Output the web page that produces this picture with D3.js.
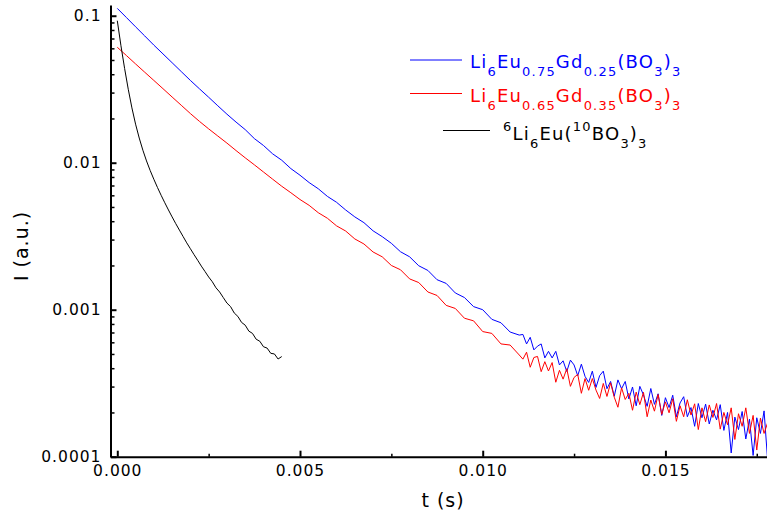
<!DOCTYPE html>
<html>
<head>
<meta charset="utf-8">
<script src="https://cdn.jsdelivr.net/npm/d3@7"></script>
<style>
body { margin: 0; background: #fff; }
svg { display: block; font-family: "DejaVu Sans", Verdana, sans-serif; }
</style>
</head>
<body>
<svg id="chart" width="767" height="514"></svg>
<script>
// decay curves.
// early part sampled every 0.25 ms from t = 0, noisy tail every 0.1 ms from 11.1 ms
const earlyStep = 0.00025;
const tailStart = 0.0111, tailStep = 0.0001;

const blueEarly = [
  0.1122, 0.0972, 0.0841, 0.0729, 0.0631, 0.0550, 0.0479, 0.0417, 0.0363, 0.0318,
  0.0279, 0.0244, 0.0214, 0.0189, 0.0168, 0.0146, 0.0131, 0.0115, 0.0104, 0.00912,
  0.00822, 0.00733, 0.00665, 0.00590, 0.00538, 0.00477, 0.00428, 0.00391, 0.00344, 0.00314,
  0.00283, 0.00248, 0.00229, 0.00199, 0.00185, 0.00160, 0.00151, 0.00130, 0.00121, 0.00105,
  0.00100, 0.000860, 0.000815, 0.000705, 0.000672
];
const blueTail = [
  6.79e-4, 5.85e-4, 6.49e-4, 5.33e-4, 5.65e-4, 5.85e-4, 4.70e-4, 5.21e-4, 4.70e-4, 5.21e-4,
  4.21e-4, 4.49e-4, 3.80e-4, 4.54e-4, 4.21e-4, 3.56e-4, 4.26e-4, 3.52e-4, 3.20e-4, 3.82e-4,
  2.96e-4, 3.56e-4, 3.82e-4, 2.90e-4, 3.25e-4, 2.58e-4, 3.33e-4, 2.90e-4, 3.25e-4, 2.47e-4,
  2.98e-4, 2.22e-4, 3.01e-4, 2.63e-4, 2.20e-4, 2.91e-4, 2.27e-4, 2.68e-4, 1.91e-4, 2.52e-4,
  2.16e-4, 2.62e-4, 1.87e-4, 2.32e-4, 2.56e-4, 1.87e-4, 2.16e-4, 1.61e-4, 2.30e-4, 1.84e-4,
  2.28e-4, 1.67e-4, 2.07e-4, 1.78e-4, 2.26e-4, 1.51e-4, 2.00e-4, 1.06e-4, 1.86e-4, 1.53e-4,
  2.03e-4, 1.32e-4, 1.80e-4, 1.02e-4, 1.84e-4, 1.44e-4, 2.05e-4, 0.925e-4
];

const redEarly = [
  0.0610, 0.0536, 0.0470, 0.0413, 0.0363, 0.0319, 0.0280, 0.0246, 0.0216, 0.0191,
  0.0170, 0.0152, 0.0136, 0.0121, 0.0108, 0.00968, 0.00865, 0.00773, 0.00692, 0.00625,
  0.00562, 0.00513, 0.00457, 0.00419, 0.00372, 0.00343, 0.00303, 0.00280, 0.00247, 0.00229,
  0.00200, 0.00187, 0.00162, 0.00153, 0.00132, 0.00125, 0.00107, 0.00102, 0.000875, 0.000840,
  0.000710, 0.000690, 0.000585, 0.000575, 0.000492
];
const redTail = [
  4.61e-4, 5.14e-4, 4.06e-4, 4.73e-4, 4.81e-4, 3.79e-4, 4.43e-4, 3.83e-4, 4.37e-4, 3.21e-4,
  3.87e-4, 3.37e-4, 3.97e-4, 3.01e-4, 3.46e-4, 3.63e-4, 2.70e-4, 3.40e-4, 2.83e-4, 3.40e-4,
  2.84e-4, 2.49e-4, 3.15e-4, 2.57e-4, 3.18e-4, 2.54e-4, 2.17e-4, 2.94e-4, 2.45e-4, 2.70e-4,
  2.07e-4, 2.75e-4, 2.26e-4, 2.74e-4, 1.87e-4, 2.43e-4, 2.04e-4, 2.65e-4, 1.94e-4, 2.36e-4,
  1.99e-4, 2.48e-4, 1.74e-4, 2.22e-4, 1.87e-4, 2.44e-4, 1.92e-4, 2.29e-4, 1.53e-4, 2.15e-4,
  1.73e-4, 2.25e-4, 1.85e-4, 2.30e-4, 1.54e-4, 2.00e-4, 1.65e-4, 2.15e-4, 1.31e-4, 1.96e-4,
  1.61e-4, 2.15e-4, 1.44e-4, 1.91e-4, 1.11e-4, 1.83e-4, 1.44e-4, 1.71e-4
];

// 6Li6Eu(10BO3)3, every 0.1 ms up to 4.5 ms
const blackStep = 0.0001;
const blackVals = [
  0.0925, 0.0625, 0.0438, 0.0316, 0.0236, 0.0183, 0.01472, 0.01216, 0.01028, 0.00885,
  0.00772, 0.00678, 0.00600, 0.00534, 0.00477, 0.00428, 0.00385, 0.00348, 0.00315, 0.00285,
  0.00260, 0.00237, 0.00217, 0.00198, 0.00182, 0.00167, 0.00155, 0.00141, 0.00132, 0.00121,
  0.00111, 0.00105, 0.000950, 0.000900, 0.000820, 0.000785, 0.000715, 0.000690, 0.000630, 0.000610,
  0.000560, 0.000548, 0.000505, 0.000500, 0.000462, 0.000480
];

const xMajor = [0, 0.005, 0.010, 0.015];
const xMinor = [0.0025, 0.0075, 0.0125, 0.0175];
const xLabels = ["0.000", "0.005", "0.010", "0.015"];
const yMajor = [0.1, 0.01, 0.001, 0.0001];
const yLabels = ["0.1", "0.01", "0.001", "0.0001"];

// legend label pieces: [text, "" | "sub" | "sup"]
const legendBlue = [["Li",""],["6","sub"],["Eu",""],["0.75","sub"],["Gd",""],["0.25","sub"],["(BO",""],["3","sub"],[")",""],["3","sub"]];
const legendRed = [["Li",""],["6","sub"],["Eu",""],["0.65","sub"],["Gd",""],["0.35","sub"],["(BO",""],["3","sub"],[")",""],["3","sub"]];
const legendBlack = [["6","sup"],["Li",""],["6","sub"],["Eu(",""],["10","sup"],["BO",""],["3","sub"],[")",""],["3","sub"]];

var svg = d3.select("#chart");
// plot box edges (window.top is reserved, so other names)
var pLeft = 110.5, pRight = 767, pTop = 5, pBottom = 456.7;

var X = d3.scaleLinear().domain([-0.000186, 0.01778]).range([pLeft, pRight]);
var Y = d3.scaleLog().domain([0.0001, 0.1183]).range([pBottom, pTop]);

svg.append("defs").append("clipPath").attr("id", "plotclip")
    .append("rect")
    .attr("x", pLeft).attr("y", pTop)
    .attr("width", pRight - pLeft).attr("height", pBottom - pTop);

function toPoints(vals, t0, step) {
    return vals.map(function(v, i) { return [t0 + i * step, v]; });
}

var line = d3.line()
    .x(function(d) { return X(d[0]); })
    .y(function(d) { return Y(d[1]); });

var series = [
    {pts: toPoints(blueEarly, 0, earlyStep).concat(toPoints(blueTail, tailStart, tailStep)), color: "#0000ff"},
    {pts: toPoints(redEarly, 0, earlyStep).concat(toPoints(redTail, tailStart, tailStep)), color: "#ff0000"},
    {pts: toPoints(blackVals, 0, blackStep), color: "#000000"}
];

var plot = svg.append("g").attr("clip-path", "url(#plotclip)");
series.forEach(function(s) {
    plot.append("path")
        .attr("d", line(s.pts))
        .attr("fill", "none")
        .attr("stroke", s.color)
        .attr("stroke-width", 1)
        .attr("stroke-linejoin", "round");
});

// axes
var tickFont = function(g) {
    g.selectAll("text")
        .attr("font-family", "DejaVu Sans, Verdana, sans-serif")
        .attr("font-size", 15.5)
        .attr("letter-spacing", 1)
        .attr("fill", "#000");
    g.select(".domain").attr("stroke-width", 2);
};

var yMinorVals = Y.ticks().filter(function(v) {
    return yMajor.indexOf(v) < 0 && v > 0.0001;
});

svg.append("g")
    .attr("transform", "translate(" + pLeft + ",0)")
    .call(d3.axisLeft(Y).tickValues(yMinorVals).tickFormat("").tickSize(-4).tickSizeOuter(0))
    .call(function(g) {
        g.select(".domain").remove();
        g.selectAll(".tick line").attr("stroke-width", 1.5);
    });

svg.append("g")
    .attr("transform", "translate(" + pLeft + ",0)")
    .call(d3.axisLeft(Y).tickValues(yMajor)
        .tickFormat(function(d, i) { return yLabels[i]; })
        .tickSize(-6).tickSizeOuter(0).tickPadding(9))
    .call(tickFont)
    .call(function(g) { g.selectAll(".tick line").attr("stroke-width", 2); });

svg.append("g")
    .attr("transform", "translate(0," + pBottom + ")")
    .call(d3.axisBottom(X).tickValues(xMinor).tickFormat("").tickSize(-3).tickSizeOuter(0))
    .call(function(g) {
        g.select(".domain").remove();
        g.selectAll(".tick line").attr("stroke-width", 1.5);
    });

svg.append("g")
    .attr("transform", "translate(0," + pBottom + ")")
    .call(d3.axisBottom(X).tickValues(xMajor)
        .tickFormat(function(d, i) { return xLabels[i]; })
        .tickSize(-6).tickSizeOuter(0).tickPadding(8))
    .call(tickFont)
    .call(function(g) { g.selectAll(".tick line").attr("stroke-width", 2); });

// axis titles
svg.append("text")
    .attr("x", 443).attr("y", 507)
    .attr("text-anchor", "middle")
    .attr("font-size", 19)
    .attr("letter-spacing", 1)
    .text("t (s)");

svg.append("text")
    .attr("transform", "translate(28,246) rotate(-90)")
    .attr("text-anchor", "middle")
    .attr("font-size", 19)
    .attr("letter-spacing", 1)
    .text("I (a.u.)");

// legend
var legend = [
    {parts: legendBlue, color: "#0000ff", x1: 410, x2: 462, ly: 60, tx: 470, ty: 68.3},
    {parts: legendRed, color: "#ff0000", x1: 410, x2: 462, ly: 93.5, tx: 470, ty: 101.7},
    {parts: legendBlack, color: "#000000", x1: 443, x2: 490, ly: 130.5, tx: 503, ty: 140}
];
var shift = {"": 0, "sub": 8, "sup": -9};

legend.forEach(function(l) {
    svg.append("line")
        .attr("x1", l.x1).attr("x2", l.x2)
        .attr("y1", l.ly).attr("y2", l.ly)
        .attr("stroke", l.color).attr("stroke-width", 1);
    var t = svg.append("text")
        .attr("x", l.tx).attr("y", l.ty)
        .attr("fill", l.color)
        .attr("font-size", 18)
        .attr("letter-spacing", 1.2);
    var cur = 0;
    l.parts.forEach(function(p) {
        var off = shift[p[1]];
        t.append("tspan")
            .attr("dy", off - cur)
            .attr("font-size", p[1] ? 13 : 18)
            .text(p[0]);
        cur = off;
    });
});
</script>
</body>
</html>
